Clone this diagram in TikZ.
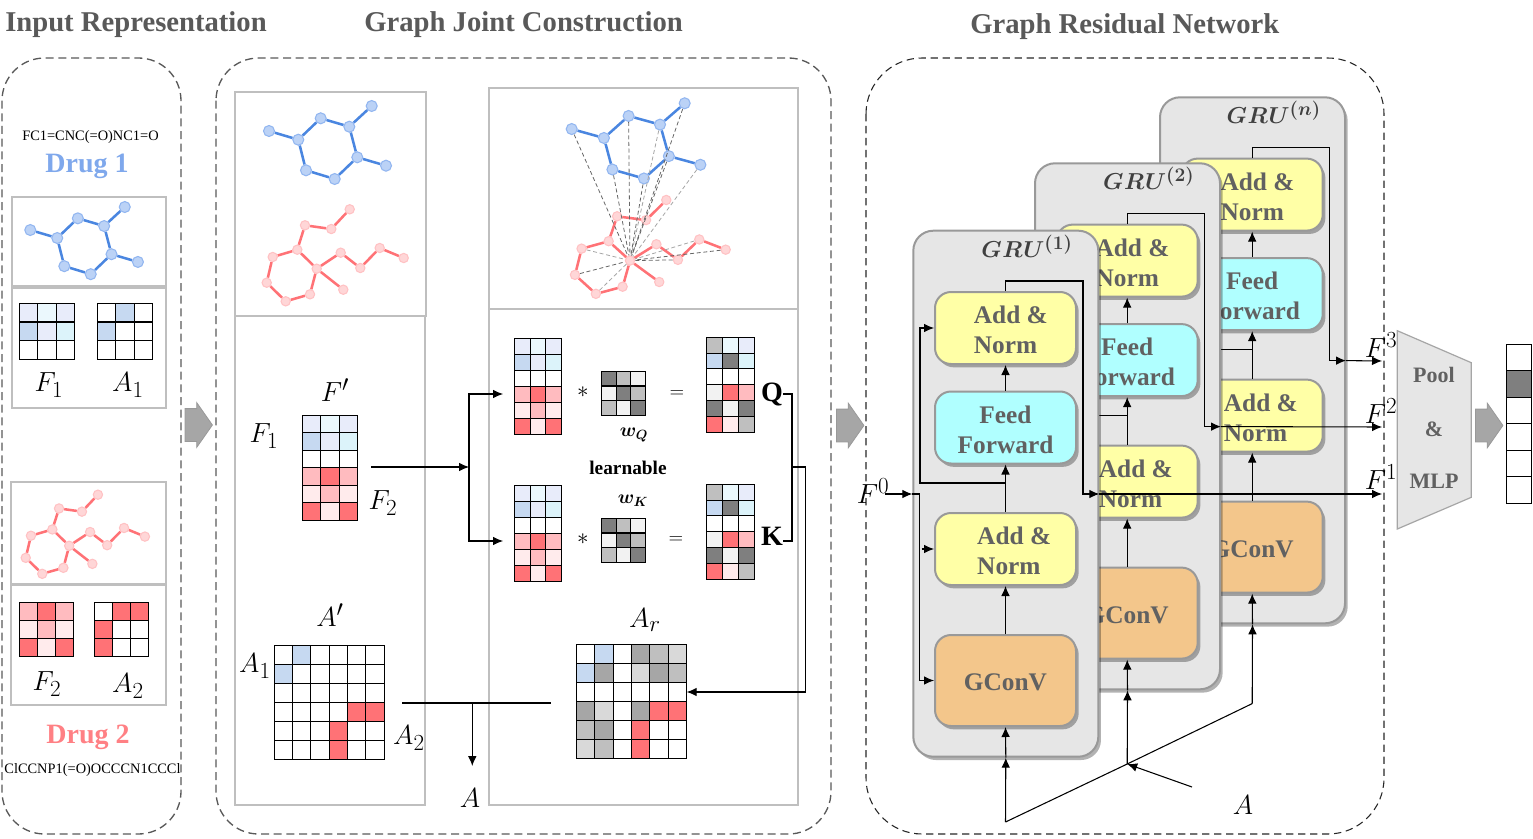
\documentclass[tikz,border=0pt]{standalone}
\usepackage{fontspec}
\setmainfont{Liberation Serif}
\usetikzlibrary{arrows.meta,shapes.arrows,shadows}
\DeclareMathSizes{22}{22}{17}{13}
\DeclareMathSizes{19}{19}{14}{11}

\definecolor{titlegray}{HTML}{595959}
\definecolor{drugblue}{HTML}{7FA8EC}
\definecolor{drugred}{HTML}{FF8084}
\definecolor{bluebond}{HTML}{4A86E0}
\definecolor{blueball}{HTML}{BBD2F6}
\definecolor{blueline}{HTML}{92B6F0}
\definecolor{redball}{HTML}{FFD6D7}
\definecolor{redline}{HTML}{FFC2C4}
\definecolor{blA}{HTML}{C6D9F1}
\definecolor{blB}{HTML}{E8ECFA}
\definecolor{blC}{HTML}{EBF8FD}
\definecolor{blD}{HTML}{DCF3FA}
\definecolor{rdA}{HTML}{FF7276}
\definecolor{rdB}{HTML}{FFBBBF}
\definecolor{rdC}{HTML}{FFEBEC}
\definecolor{gyA}{HTML}{7F7F7F}
\definecolor{gyB}{HTML}{BFBFBF}
\definecolor{gyC}{HTML}{F2F2F2}
\definecolor{gyD}{HTML}{A6A6A6}
\definecolor{gyE}{HTML}{D9D9D9}
\definecolor{wh}{HTML}{FFFFFF}
\definecolor{panelgray}{HTML}{E6E6E6}
\definecolor{edgegray}{HTML}{999999}
\definecolor{addyellow}{HTML}{FFFFA6}
\definecolor{feedcyan}{HTML}{B0FFFF}
\definecolor{gconvorange}{HTML}{F3C68B}

\tikzset{
    titlelabel/.style={font=\fontsize{21.5}{25}\selectfont\bfseries,text=titlegray,inner sep=0,anchor=west},
    druglabel/.style={font=\fontsize{21}{25}\selectfont\bfseries,inner sep=0},
    smileslabel/.style={font=\fontsize{10.8}{13}\selectfont,inner sep=0},
    mathlabel/.style={font=\fontsize{22}{26}\selectfont,inner sep=0},
    starlabel/.style={font=\fontsize{19}{22}\selectfont,inner sep=0},
    opslabel/.style={font=\fontsize{15}{18}\selectfont,inner sep=0},
    boldlabel/.style={font=\fontsize{14.5}{17}\selectfont\bfseries,inner sep=0},
    qklabel/.style={font=\fontsize{21}{25}\selectfont\bfseries,inner sep=0},
    cell/.style={draw=black,line width=0.8pt},
    gridnode/.style={inner sep=0,outer sep=0},
    framebox/.style={draw=gyB,line width=1.5pt},
    groupframe/.style={draw=black!65,dash pattern=on 6pt off 3.5pt,line width=1pt,rounded corners=32pt},
    resframe/.style={draw=black!85,dash pattern=on 5.5pt off 3.5pt,line width=0.8pt,rounded corners=42pt},
    blueatom/.style={circle,inner sep=0,minimum size=8.25pt,fill=blueball,draw=blueline,line width=0.8pt},
    redatom/.style={circle,inner sep=0,minimum size=7pt,fill=redball,draw=redline,line width=0.8pt},
    blueedge/.style={draw=bluebond,line width=1.9pt},
    rededge/.style={draw=rdA,line width=1.9pt},
    linkdark/.style={draw=black!60,densely dashed,line width=0.6pt},
    linklight/.style={draw=black!35,densely dashed,line width=0.6pt},
    wireline/.style={draw=black,line width=0.8pt},
    wirearrow/.style={wireline,-{Latex[length=7.5pt,width=6.5pt]}},
    flowarrow/.style={single arrow,inner sep=0,text height=24pt,text depth=0pt,minimum height=20.5pt,
        single arrow head extend=4.5pt,single arrow tip angle=110,fill=gyD,draw=edgegray,line width=0.6pt},
    softshadow/.style={drop shadow={shadow xshift=2pt,shadow yshift=-2.5pt,opacity=0.3,fill=black}},
    grupanel/.style={rectangle,rounded corners=15pt,minimum width=138.75pt,minimum height=394.5pt,
        fill=panelgray,draw=edgegray,line width=1.5pt,softshadow},
    grutitle/.style={font=\fontsize{19}{22}\selectfont,text=black!75,inner sep=0},
    boxbase/.style={rectangle,rounded corners=12pt,minimum width=105.75pt,draw=edgegray,line width=1.5pt,
        softshadow,text=black!62,font=\fontsize{19}{22.5}\selectfont\bfseries,inner sep=0},
    addbox/.style={boxbase,minimum height=54pt,fill=addyellow,align=left},
    feedbox/.style={boxbase,minimum height=54pt,fill=feedcyan,align=center},
    gconvbox/.style={boxbase,minimum height=68.25pt,fill=gconvorange},
    poollabel/.style={font=\fontsize{16.5}{20}\selectfont\bfseries,text=black!62,inner sep=0},
}

% cell matrix: name, left, top, columns, rows, cell width, cell height, colours
\newcommand{\cellgrid}[8]{%
    \edef\cellcols{#8}%
    \foreach \cellcol [count=\idx from 0] in \cellcols {
        \pgfmathtruncatemacro{\cellx}{mod(\idx,#4)}
        \pgfmathtruncatemacro{\celly}{int(\idx/#4)}
        \draw[cell,fill=\cellcol] ({#2+\cellx*#6},{#3+\celly*#7}) rectangle ++(#6,#7);
    }
    \node[gridnode,minimum width={#4*#6*0.75pt},minimum height={#5*#7*0.75pt}] (#1)
        at ({#2+#4*#6/2},{#3+#5*#7/2}) {};
}

% molecules: prefix, shift, x scale, y scale
\newcommand{\bluemol}[4]{%
    \begin{scope}[shift={#2},xscale=#3,yscale=#4]
        \foreach \nm/\ax/\ay in {a/269/131,b/298.3/139.7,c/320.7/118.3,d/349.3/126.7,e/371.7/106,
            f/357.3/157.3,g/386/165.7,h/334.7/179,i/306/170.3}
            \node[blueatom] (#1\nm) at (\ax,\ay) {};
        \foreach \from/\to in {a/b,b/c,c/d,d/e,d/f,f/g,f/h,h/i,i/b}
            \draw[blueedge] (#1\from) -- (#1\to);
    \end{scope}
}
\newcommand{\redmol}[4]{%
    \begin{scope}[shift={#2},xscale=#3,yscale=#4]
        \foreach \nm/\ax/\ay in {j/349.7/209.3,k/331.3/229,l/305/225.3,m/297.3/249.7,n/272.7/257,
            o/266.7/282.7,p/285.7/301.3,q/310/294.3,r/316.7/268.7,s/343.3/289.7,t/340.7/252.7,
            u/360.3/268,v/379.7/248,w/403.7/258}
            \node[redatom] (#1\nm) at (\ax,\ay) {};
        \foreach \from/\to in {j/k,k/l,l/m,m/n,n/o,o/p,p/q,q/r,r/m,r/s,r/t,t/u,u/v,v/w}
            \draw[rededge] (#1\from) -- (#1\to);
    \end{scope}
}

\newcommand{\boxstrut}{\rule{0pt}{16pt}}
\newcommand{\addnorm}[1]{\boxstrut\hspace*{#1}Add \&\\\hspace*{#1}Norm}

% one GRU block: suffix, x offset, y offset, title
\newcommand{\grublock}[4]{%
    \begin{scope}[shift={(#2,#3)}]
        \node[grupanel] (panel#1) at (1005.8,493.7) {};
        \node[grutitle] (title#1) at (1027,246) {{\boldmath$G\mkern0.5mu R\mkern0.5mu U^{(#4)}$}};
        \node[addbox] (addup#1) at (1005.5,328) {\addnorm{8pt}};
        \node[feedbox] (feed#1) at (1005.5,427.5) {\boxstrut Feed\\Forward};
        \node[addbox] (addlow#1) at (1005.5,549) {\addnorm{13pt}};
        \node[gconvbox] (gconv#1) at (1005.5,680.5) {\boxstrut GConV};
        \coordinate (skip#1) at (1005.5,483);
        \coordinate (rail#1) at (919.5,494);
        \coordinate (branch#1) at (921.7,549);
        \coordinate (outtop#1) at (1083,281);
        \coordinate (outend#1) at (1083,494);
        \draw[wirearrow] (gconv#1) -- (addlow#1);
        \draw[wirearrow] (addlow#1) -- (feed#1);
        \draw[wirearrow] (feed#1) -- (addup#1);
        \draw[wirearrow] (skip#1) -- ++(-85.5,0) |- (addup#1.west);
        \draw[wirearrow] (rail#1) |- (gconv#1.west);
        \draw[wirearrow] (branch#1) -- (addlow#1.west);
        \draw[wirearrow] (addup#1.north) |- (outtop#1) -- (outend#1) -- (panel#1.east |- outend#1);
    \end{scope}
}

\begin{document}
\begin{tikzpicture}[x=0.75pt,y=-0.75pt]
    \useasboundingbox (0,0) rectangle (1533,838);

    % titles
    \node[titlelabel] (titleinput) at (5,25) {Input Representation};
    \node[titlelabel] (titlejoint) at (364,25) {Graph Joint Construction};
    \node[titlelabel] (titleres) at (970,27) {Graph Residual Network};

    % dashed groups
    \draw[groupframe] (2,58) rectangle (181,834);
    \draw[groupframe] (216,58) rectangle (831,834);
    \draw[resframe] (866,58) rectangle (1384,834);

    % input representation
    \node[smileslabel] (smilesa) at (90.5,137) {FC1=CNC(=O)NC1=O};
    \node[druglabel,text=drugblue] (druga) at (87,166) {Drug 1};
    \draw[framebox] (12,197) rectangle (166,286);
    \draw[framebox] (12,287.5) rectangle (166,407.5);
    \bluemol{la}{(-217.2,109.5)}{0.92}{0.92}
    \cellgrid{fa}{19.3}{303.3}{3}{3}{18.5}{18.7}{blB,blC,blB,blA,blB,blD,wh,wh,wh}
    \cellgrid{aa}{97.3}{303.3}{3}{3}{18.5}{18.7}{wh,blA,wh,blA,wh,wh,wh,wh,wh}
    \node[mathlabel] (fatxt) at (49,385) {$F_1$};
    \node[mathlabel] (aatxt) at (128,385) {$A_1$};

    \draw[framebox] (11,482) rectangle (166,584);
    \draw[framebox] (11,584.5) rectangle (166,705);
    \redmol{lb}{(-206.3,314.7)}{0.87}{0.86}
    \cellgrid{fb}{19.3}{602.3}{3}{3}{18}{18}{rdB,rdA,rdB,rdC,rdB,rdC,rdA,rdC,rdA}
    \cellgrid{ab}{94.3}{602.3}{3}{3}{18}{18}{wh,rdA,rdA,rdA,wh,wh,rdA,wh,wh}
    \node[mathlabel] (fbtxt) at (47,684) {$F_2$};
    \node[mathlabel] (abtxt) at (128,686) {$A_2$};
    \node[druglabel,text=drugred] (drugb) at (88,737) {Drug 2};
    \node[smileslabel] (smilesb) at (92.5,770) {ClCCNP1(=O)OCCCN1CCCl};

    \node[flowarrow] (flowa) at (193,425) {};
    \node[flowarrow] (flowb) at (844.5,425.5) {};

    % graph joint construction, left column
    \draw[framebox] (235,92) rectangle (426,316);
    \draw[framebox] (235,316) rectangle (425,805);
    \bluemol{ma}{(0,0)}{1}{1}
    \redmol{mb}{(0,0)}{1}{1}
    \node[mathlabel] (fptxt) at (335,390) {$F'$};
    \node[mathlabel] (fonetxt) at (264,436) {$F_1$};
    \node[mathlabel] (ftwotxt) at (383,503) {$F_2$};
    \cellgrid{fprime}{302.3}{415.3}{3}{6}{18.5}{17.5}{blB,blC,blB,blA,blB,blD,wh,wh,wh,rdB,rdA,rdB,rdC,rdB,rdC,rdA,rdC,rdA}
    \node[mathlabel] (aptxt) at (330,615) {$A'$};
    \node[mathlabel] (aonetxt) at (255,666) {$A_1$};
    \node[mathlabel] (atwotxt) at (409,738) {$A_2$};
    \cellgrid{aprime}{274.3}{645.3}{6}{6}{18.33}{19}{wh,blA,wh,wh,wh,wh,blA,wh,wh,wh,wh,wh,wh,wh,wh,wh,wh,wh,wh,wh,wh,wh,rdA,rdA,wh,wh,wh,rdA,wh,wh,wh,wh,wh,rdA,wh,wh}

    % graph joint construction, right column
    \draw[framebox] (489,88) rectangle (798,309);
    \draw[framebox] (489,309) rectangle (798,805);
    \bluemol{qa}{(275.8,-5.9)}{1.1}{1.03}
    \redmol{qb}{(281.6,-13.5)}{1.1}{1.02}
    \foreach \src in {qaa,qai,qac,qah,qaf,qae,qbo,qbw,qbu}
        \draw[linkdark] (\src) -- (qbr);
    \foreach \src in {qad,qag,qbn,qbp,qbv}
        \draw[linklight] (\src) -- (qbr);

    \cellgrid{qleft}{514.3}{338.3}{3}{6}{15.8}{16}{blB,blC,blB,blA,blB,blD,wh,wh,wh,rdB,rdA,rdB,rdC,rdB,rdC,rdA,rdC,rdA}
    \cellgrid{kleft}{514.3}{485.3}{3}{6}{15.8}{16}{blB,blC,blB,blA,blB,blD,wh,wh,wh,rdB,rdA,rdB,rdC,rdB,rdC,rdA,rdC,rdA}
    \node[starlabel] (stara) at (583,392) {$*$};
    \node[starlabel] (starb) at (583,539) {$*$};
    \cellgrid{wq}{601.3}{371.3}{3}{3}{14.8}{14.7}{gyA,gyB,gyC,gyC,gyA,gyB,gyB,gyC,gyA}
    \cellgrid{wk}{601.3}{518.3}{3}{3}{14.8}{14.7}{gyA,gyB,gyC,gyC,gyA,gyB,gyB,gyC,gyA}
    \node[boldlabel] (wqtxt) at (634,435) {{\boldmath$w_Q$}};
    \node[boldlabel] (learntxt) at (628,468) {learnable};
    \node[boldlabel] (wktxt) at (633,501) {{\boldmath$w_K$}};
    \node[opslabel] (eqa) at (677,394) {$=$};
    \node[opslabel] (eqb) at (676,540) {$=$};
    \cellgrid{qright}{706.3}{337.3}{3}{6}{16.1}{15.83}{gyB,blC,blB,blA,gyA,blD,wh,wh,wh,gyC,rdA,rdB,gyA,gyC,gyA,rdA,rdC,gyB}
    \cellgrid{kright}{706.3}{484.3}{3}{6}{16.1}{15.83}{gyB,blC,blB,blA,gyA,blD,wh,wh,wh,gyC,rdA,rdB,gyA,gyC,gyA,rdA,rdC,gyB}
    \node[qklabel] (qtxt) at (772,394) {Q};
    \node[qklabel] (ktxt) at (772,536) {K};
    \node[mathlabel] (artxt) at (645,620) {$A_r$};
    \cellgrid{aresult}{576.3}{644.3}{6}{6}{18.4}{19}{wh,blA,wh,gyD,gyB,gyE,blA,gyD,wh,gyE,gyD,gyB,wh,wh,wh,wh,wh,wh,gyD,gyE,wh,gyD,rdA,rdA,gyB,gyD,wh,rdA,wh,wh,gyE,gyB,wh,rdA,wh,wh}

    % wires of the joint construction
    \coordinate (splitl) at (469,467);
    \coordinate (fout) at (371,467);
    \coordinate (qin) at (503,394);
    \coordinate (kin) at (503,541);
    \coordinate (qout) at (783,394);
    \coordinate (kout) at (783,541);
    \coordinate (qkrail) at (792,394);
    \coordinate (qkjoin) at (792,467);
    \coordinate (qkdown) at (805.5,467);
    \coordinate (arin) at (805.5,692);
    \coordinate (merges) at (402,703);
    \coordinate (mergee) at (551,703);
    \coordinate (mergem) at (472.3,703);
    \coordinate (aarrow) at (472.3,766);
    \node[mathlabel] (atxt) at (470,798) {$A$};
    \draw[wirearrow] (fout) -- (splitl);
    \draw[wirearrow] (splitl) |- (qin);
    \draw[wirearrow] (splitl) |- (kin);
    \draw[wireline] (qout) -- (qkrail) |- (kout);
    \draw[wireline] (qkjoin) -- (qkdown);
    \draw[wirearrow] (qkdown) |- (aresult.east |- arin);
    \draw[wireline,line width=1.4pt] (merges) -- (mergee);
    \draw[wirearrow] (mergem) -- (aarrow);

    % graph residual network
    \grublock{n}{246.7}{-133.4}{n}
    \grublock{b}{121.7}{-67.4}{2}
    \grublock{a}{0}{0}{1}

    \coordinate (fzero) at (885,494);
    \coordinate (fone) at (1382,494);
    \coordinate (ftwo) at (1382,427);
    \coordinate (fthree) at (1382,361);
    \coordinate (abot) at (1005.5,822);
    \coordinate (ajoin) at (1127.2,764);
    \coordinate (aend) at (1252.2,703.6);
    \coordinate (afrom) at (1192,787);
    \node[mathlabel] (fzerotxt) at (873,491) {$F^0$};
    \node[mathlabel] (fonetop) at (1381,477) {$F^1$};
    \node[mathlabel] (ftwotop) at (1381,411) {$F^2$};
    \node[mathlabel] (fthreetop) at (1381,345) {$F^3$};
    \node[mathlabel] (agraph) at (1243,805) {$A$};

    \draw[wirearrow] (fzero) -- (panela.west |- fzero);
    \draw[wireline] (panela.west |- fzero) -- (raila);
    \draw[wirearrow] (panela.east |- outenda) -- (fone);
    \draw[wirearrow] (panelb.east |- outendb) -- (ftwo);
    \draw[wirearrow] (paneln.east |- outendn) -- (fthree);
    \draw[wireline] (abot) -- (ajoin) -- (aend);
    \draw[wirearrow] (afrom) -- (ajoin);
    \draw[wirearrow] (abot) -- (panela.south);
    \draw[wirearrow] (panela.south) -- (gconva.south);
    \draw[wirearrow] (ajoin) -- (panelb.south);
    \draw[wirearrow] (panelb.south) -- (gconvb.south);
    \draw[wirearrow] (aend) -- (paneln.south);
    \draw[wirearrow] (paneln.south) -- (gconvn.south);

    % pooling and output
    \draw[fill=panelgray,draw=gyD,line width=0.9pt] (1397.3,330.7) -- (1471.3,362.7) -- (1471.3,497.3) -- (1397.3,529) -- cycle;
    \node[poollabel] (pooltxt) at (1434,375) {Pool};
    \node[poollabel] (andtxt) at (1434,429) {\&};
    \node[poollabel] (mlptxt) at (1434,481) {MLP};
    \node[flowarrow] (flowc) at (1483.5,425.5) {};
    \cellgrid{outvec}{1506.7}{344.3}{1}{6}{25}{26.5}{wh,gyA,wh,wh,wh,wh}
\end{tikzpicture}
\end{document}
